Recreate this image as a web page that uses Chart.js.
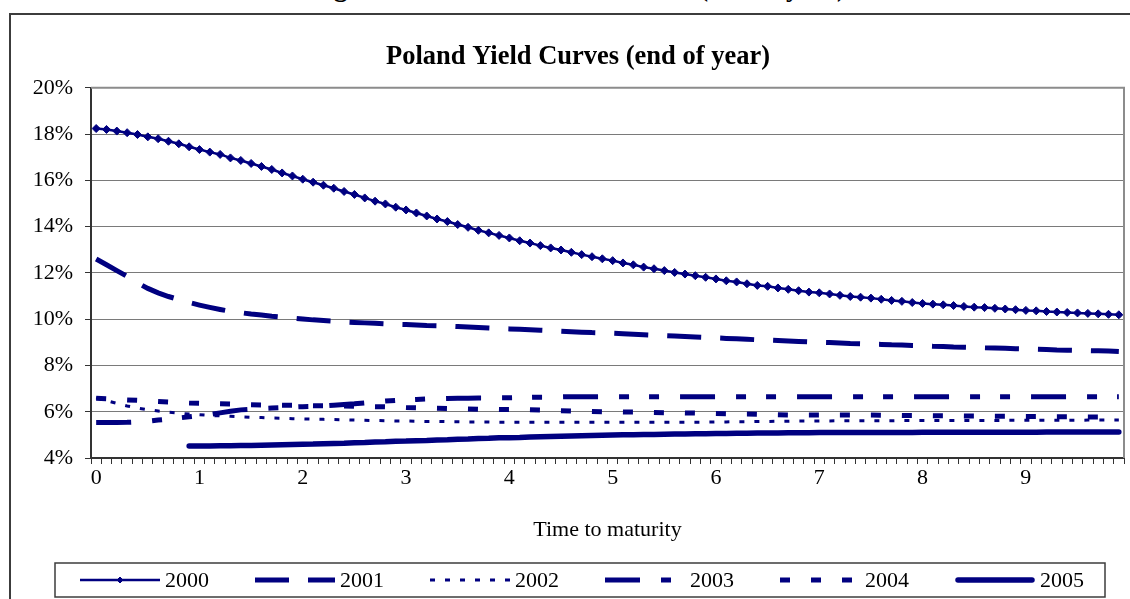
<!DOCTYPE html>
<html>
<head>
<meta charset="utf-8">
<script src="https://cdn.jsdelivr.net/npm/chart.js@4.4.1/dist/chart.umd.min.js"></script>
<style>
  html, body { margin: 0; padding: 0; background: #fff; overflow: hidden; }
  body { width: 1130px; height: 599px; position: relative; }
  #caption {
    position: absolute; left: 0; top: -26px; width: 1156px; text-align: center;
    font: bold 27px "Liberation Serif", "Times New Roman", serif; line-height: 27px; color: #000;
    white-space: nowrap;
  }
  #frame {
    position: absolute; left: 9px; top: 13px; width: 1138px; height: 620px;
    border: 2px solid #3c3c3c; box-sizing: border-box;
  }
  #chart { position: absolute; left: 11px; top: 15px; }
</style>
</head>
<body>
<div id="caption">Figure 13: Poland – Yield Curves (end of year)</div>
<div id="frame"></div>
<canvas id="chart" width="1134" height="600"></canvas>
<script>
const NAVY = '#000080';

// time to maturity, years (one category every 0.1 year)
const maturities = [
  0, 0.1, 0.2, 0.3, 0.4, 0.5, 0.6, 0.7, 0.8, 0.9,
  1, 1.1, 1.2, 1.3, 1.4, 1.5, 1.6, 1.7, 1.8, 1.9,
  2, 2.1, 2.2, 2.3, 2.4, 2.5, 2.6, 2.7, 2.8, 2.9,
  3, 3.1, 3.2, 3.3, 3.4, 3.5, 3.6, 3.7, 3.8, 3.9,
  4, 4.1, 4.2, 4.3, 4.4, 4.5, 4.6, 4.7, 4.8, 4.9,
  5, 5.1, 5.2, 5.3, 5.4, 5.5, 5.6, 5.7, 5.8, 5.9,
  6, 6.1, 6.2, 6.3, 6.4, 6.5, 6.6, 6.7, 6.8, 6.9,
  7, 7.1, 7.2, 7.3, 7.4, 7.5, 7.6, 7.7, 7.8, 7.9,
  8, 8.1, 8.2, 8.3, 8.4, 8.5, 8.6, 8.7, 8.8, 8.9,
  9, 9.1, 9.2, 9.3, 9.4, 9.5, 9.6, 9.7, 9.8, 9.9
];

const years = ['2000', '2001', '2002', '2003', '2004', '2005'];

// yields in %
const y2000 = [
  18.24, 18.20, 18.13, 18.06, 17.98, 17.88, 17.80, 17.69, 17.58, 17.45,
  17.33, 17.22, 17.12, 16.97, 16.86, 16.73, 16.60, 16.47, 16.32, 16.19,
  16.05, 15.92, 15.79, 15.66, 15.52, 15.39, 15.24, 15.10, 14.98, 14.84,
  14.72, 14.59, 14.46, 14.33, 14.22, 14.09, 13.97, 13.84, 13.73, 13.62,
  13.51, 13.39, 13.29, 13.18, 13.08, 12.99, 12.89, 12.79, 12.70, 12.61,
  12.53, 12.43, 12.35, 12.25, 12.18, 12.10, 12.02, 11.95, 11.88, 11.81,
  11.74, 11.66, 11.61, 11.53, 11.46, 11.42, 11.35, 11.29, 11.23, 11.17,
  11.14, 11.09, 11.03, 10.98, 10.95, 10.91, 10.86, 10.81, 10.77, 10.72,
  10.68, 10.65, 10.62, 10.59, 10.55, 10.52, 10.50, 10.47, 10.44, 10.41,
  10.38, 10.36, 10.33, 10.31, 10.29, 10.27, 10.25, 10.23, 10.21, 10.19
];
const y2001 = [
  12.60, 12.35, 12.10, 11.85, 11.57, 11.33, 11.14, 10.98, 10.85, 10.72,
  10.61, 10.51, 10.42, 10.34, 10.28, 10.22, 10.18, 10.13, 10.09, 10.05,
  10.01, 9.97, 9.94, 9.91, 9.88, 9.86, 9.84, 9.82, 9.80, 9.78,
  9.77, 9.75, 9.73, 9.72, 9.70, 9.68, 9.66, 9.64, 9.62, 9.60,
  9.58, 9.56, 9.54, 9.52, 9.50, 9.48, 9.46, 9.44, 9.42, 9.41,
  9.39, 9.37, 9.35, 9.33, 9.31, 9.29, 9.27, 9.25, 9.23, 9.21,
  9.19, 9.17, 9.15, 9.13, 9.11, 9.10, 9.08, 9.06, 9.04, 9.02,
  9.00, 8.99, 8.97, 8.95, 8.94, 8.92, 8.91, 8.89, 8.88, 8.86,
  8.85, 8.83, 8.82, 8.80, 8.79, 8.78, 8.76, 8.75, 8.74, 8.72,
  8.71, 8.70, 8.69, 8.67, 8.66, 8.65, 8.64, 8.63, 8.62, 8.60
];
const y2002 = [
  6.60, 6.48, 6.36, 6.25, 6.16, 6.09, 6.03, 5.98, 5.94, 5.90,
  5.87, 5.84, 5.82, 5.80, 5.78, 5.76, 5.75, 5.73, 5.72, 5.70,
  5.69, 5.68, 5.67, 5.66, 5.65, 5.64, 5.63, 5.62, 5.61, 5.60,
  5.60, 5.59, 5.58, 5.58, 5.57, 5.57, 5.56, 5.56, 5.56, 5.55,
  5.55, 5.55, 5.55, 5.55, 5.55, 5.55, 5.55, 5.55, 5.55, 5.55,
  5.55, 5.55, 5.55, 5.55, 5.55, 5.55, 5.55, 5.55, 5.55, 5.55,
  5.56, 5.56, 5.57, 5.57, 5.58, 5.58, 5.59, 5.59, 5.60, 5.60,
  5.60, 5.60, 5.61, 5.61, 5.61, 5.61, 5.61, 5.61, 5.62, 5.62,
  5.62, 5.62, 5.62, 5.62, 5.62, 5.62, 5.62, 5.62, 5.63, 5.63,
  5.63, 5.63, 5.63, 5.63, 5.63, 5.63, 5.64, 5.64, 5.64, 5.64
];
const y2003 = [
  5.53, 5.53, 5.53, 5.54, 5.56, 5.59, 5.64, 5.68, 5.73, 5.78,
  5.83, 5.88, 5.95, 6.02, 6.08, 6.11, 6.14, 6.16, 6.18, 6.20,
  6.22, 6.23, 6.25, 6.28, 6.31, 6.34, 6.38, 6.42, 6.46, 6.49,
  6.51, 6.53, 6.55, 6.56, 6.57, 6.58, 6.58, 6.59, 6.59, 6.60,
  6.60, 6.61, 6.62, 6.63, 6.63, 6.64, 6.65, 6.65, 6.65, 6.65,
  6.65, 6.65, 6.65, 6.65, 6.65, 6.65, 6.65, 6.65, 6.65, 6.65,
  6.65, 6.65, 6.65, 6.65, 6.65, 6.65, 6.65, 6.65, 6.65, 6.65,
  6.65, 6.65, 6.65, 6.65, 6.65, 6.65, 6.65, 6.65, 6.65, 6.65,
  6.65, 6.65, 6.65, 6.65, 6.65, 6.65, 6.65, 6.65, 6.65, 6.65,
  6.65, 6.65, 6.65, 6.65, 6.65, 6.65, 6.65, 6.65, 6.65, 6.65
];
const y2004 = [
  6.58, 6.56, 6.53, 6.51, 6.49, 6.46, 6.44, 6.42, 6.40, 6.38,
  6.37, 6.35, 6.34, 6.33, 6.31, 6.30, 6.29, 6.29, 6.28, 6.28,
  6.27, 6.26, 6.26, 6.25, 6.25, 6.24, 6.23, 6.22, 6.21, 6.20,
  6.18, 6.17, 6.16, 6.15, 6.14, 6.13, 6.12, 6.11, 6.11, 6.10,
  6.10, 6.09, 6.08, 6.07, 6.05, 6.04, 6.03, 6.02, 6.01, 6.00,
  6.00, 5.99, 5.99, 5.98, 5.97, 5.96, 5.96, 5.95, 5.94, 5.93,
  5.92, 5.91, 5.90, 5.90, 5.89, 5.88, 5.87, 5.86, 5.86, 5.86,
  5.86, 5.86, 5.86, 5.86, 5.86, 5.86, 5.85, 5.85, 5.84, 5.84,
  5.84, 5.83, 5.83, 5.83, 5.82, 5.82, 5.81, 5.80, 5.80, 5.79,
  5.79, 5.79, 5.79, 5.78, 5.78, 5.78, 5.77, 5.77, 5.76, 5.76
];
const y2005 = [
  null, null, null, null, null, null, null, null, null, 4.52,
  4.52, 4.52, 4.53, 4.53, 4.54, 4.54, 4.55, 4.56, 4.57, 4.58,
  4.59, 4.60, 4.62, 4.63, 4.64, 4.66, 4.67, 4.69, 4.70, 4.72,
  4.73, 4.75, 4.76, 4.78, 4.79, 4.81, 4.82, 4.84, 4.85, 4.87,
  4.88, 4.89, 4.91, 4.92, 4.93, 4.94, 4.95, 4.96, 4.97, 4.98,
  4.99, 5.00, 5.01, 5.02, 5.02, 5.03, 5.04, 5.04, 5.05, 5.05,
  5.06, 5.06, 5.07, 5.07, 5.08, 5.08, 5.08, 5.09, 5.09, 5.09,
  5.10, 5.10, 5.10, 5.10, 5.10, 5.10, 5.10, 5.10, 5.10, 5.10,
  5.11, 5.11, 5.11, 5.11, 5.11, 5.11, 5.11, 5.11, 5.11, 5.11,
  5.11, 5.11, 5.12, 5.12, 5.12, 5.12, 5.12, 5.12, 5.12, 5.12
];

const yTicks = [4, 6, 8, 10, 12, 14, 16, 18, 20];

const SERIF = "'Liberation Serif', 'Times New Roman', serif";

function lineSet(label, data, width, dash, extra) {
  return Object.assign({
    label: label,
    data: data,
    borderColor: NAVY,
    backgroundColor: NAVY,
    borderWidth: width,
    borderDash: dash,
    borderCapStyle: 'butt',
    pointRadius: 0,
    tension: 0,
    fill: false,
    spanGaps: false
  }, extra || {});
}

// plot frame (grey top/right edge like Excel's plot area)
const plotFrame = {
  id: 'plotFrame',
  afterDatasetsDraw(chart) {
    const { ctx, chartArea: a } = chart;
    ctx.save();
    ctx.strokeStyle = '#8c8c8c';
    ctx.lineWidth = 2;
    ctx.beginPath();
    ctx.moveTo(a.left, a.top);
    ctx.lineTo(a.right, a.top);
    ctx.lineTo(a.right, a.bottom);
    ctx.stroke();
    ctx.restore();
  }
};

// boxed legend with line samples below the axis title
const boxLegend = {
  id: 'boxLegend',
  afterDraw(chart) {
    const ctx = chart.ctx;
    const left = 44, top = 548, w = 1050, h = 34;
    const step = w / chart.data.datasets.length;
    const cy = top + h / 2;
    ctx.save();
    ctx.strokeStyle = '#3c3c3c';
    ctx.lineWidth = 1.5;
    ctx.strokeRect(left, top, w, h);
    chart.data.datasets.forEach((ds, i) => {
      const x0 = left + 25 + i * step;
      const x1 = x0 + 80;
      ctx.save();
      ctx.beginPath();
      ctx.rect(x0, top + 2, 80, h - 4);
      ctx.clip();
      ctx.strokeStyle = ds.borderColor;
      ctx.lineWidth = ds.borderWidth;
      ctx.lineCap = ds.borderCapStyle || 'butt';
      ctx.setLineDash(ds.borderDash || []);
      ctx.beginPath();
      ctx.moveTo(x0 + (ds.borderCapStyle === 'round' ? 3 : 0), cy);
      ctx.lineTo(x1 - (ds.borderCapStyle === 'round' ? 3 : 0), cy);
      ctx.stroke();
      ctx.restore();
      if (ds.pointRadius > 0) {
        ctx.save();
        ctx.fillStyle = ds.pointBackgroundColor;
        ctx.strokeStyle = ds.pointBorderColor;
        ctx.lineWidth = 1;
        Chart.helpers.drawPoint(ctx, { pointStyle: ds.pointStyle, radius: 3, borderWidth: 1 }, (x0 + x1) / 2, cy);
        ctx.restore();
      }
      ctx.fillStyle = '#000';
      ctx.font = '22px ' + SERIF;
      ctx.textBaseline = 'middle';
      ctx.textAlign = 'left';
      ctx.fillText(ds.label, x1 + 5, cy + 1);
    });
    ctx.restore();
  }
};

const ctx = document.getElementById('chart').getContext('2d');

new Chart(ctx, {
  type: 'line',
  data: {
    labels: maturities,
    datasets: [
      lineSet(years[0], y2000, 2.5, [], {
        pointRadius: 4, pointStyle: 'rectRot',
        pointBackgroundColor: NAVY, pointBorderColor: NAVY, pointBorderWidth: 1
      }),
      lineSet(years[1], y2001, 5, [34, 19]),
      lineSet(years[2], y2002, 3, [5, 10]),
      lineSet(years[3], y2003, 5, [35, 21, 10, 20, 10, 21]),
      lineSet(years[4], y2004, 5, [10, 21]),
      lineSet(years[5], y2005, 5.5, [], { borderCapStyle: 'round', borderJoinStyle: 'round' })
    ]
  },
  options: {
    responsive: false,
    animation: false,
    devicePixelRatio: 1,
    // symmetric side padding keeps the title centred on the frame
    layout: { padding: { left: 21, right: 21, top: 0, bottom: 67 } },
    plugins: {
      legend: { display: false },
      tooltip: { enabled: false },
      title: {
        display: true,
        text: 'Poland Yield Curves (end of year)',
        color: '#000',
        font: { family: SERIF, size: 26.5, weight: 'bold', lineHeight: 1.2 },
        padding: { top: 26, bottom: 15 }
      }
    },
    scales: {
      x: {
        type: 'category',
        offset: true,
        afterFit: (scale) => { scale.height = 90; },
        grid: {
          offset: true,
          drawOnChartArea: false,
          drawTicks: true,
          tickLength: 6,
          tickColor: '#333',
          tickWidth: 1
        },
        border: { display: true, color: '#333', width: 2 },
        ticks: {
          autoSkip: false,
          maxRotation: 0,
          padding: 1,
          color: '#000',
          font: { family: SERIF, size: 22 },
          callback: (value, index) => (index % 10 === 0 ? String(maturities[index]) : '')
        },
        title: {
          display: true,
          text: 'Time to maturity',
          color: '#000',
          font: { family: SERIF, size: 22 },
          padding: { top: 0, bottom: 5 }
        }
      },
      y: {
        min: 4,
        max: 20,
        afterFit: (scale) => { scale.width = 59; },
        afterBuildTicks: (scale) => { scale.ticks = yTicks.map(v => ({ value: v })); },
        grid: {
          color: '#7a7a7a',
          lineWidth: 1,
          drawTicks: true,
          tickLength: 6,
          tickColor: '#333'
        },
        border: { display: true, color: '#333', width: 2 },
        ticks: {
          padding: 12,
          color: '#000',
          font: { family: SERIF, size: 22 },
          callback: (v) => v + '%'
        }
      }
    }
  },
  plugins: [plotFrame, boxLegend]
});
</script>
</body>
</html>
